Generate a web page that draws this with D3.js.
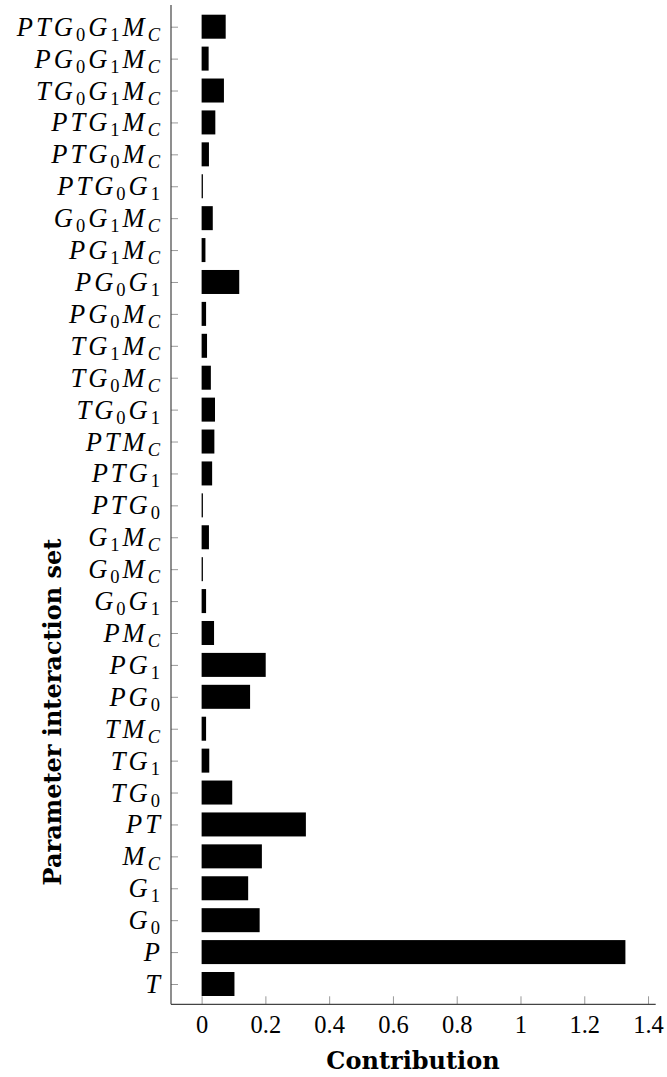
<!DOCTYPE html>
<html>
<head>
<meta charset="utf-8">
<script src="https://cdn.jsdelivr.net/npm/d3@7/dist/d3.min.js"></script>
<style>
  html, body { margin: 0; padding: 0; background: #fff; }
  svg { display: block; }
</style>
</head>
<body>
<svg id="chart" width="667" height="1077"></svg>
<script>
// Parameter interaction sets, listed bottom to top; "_x" marks a subscript.
const categories = [
  "T", "P", "G_0", "G_1", "M_C", "PT", "TG_0", "TG_1", "TM_C",
  "PG_0", "PG_1", "PM_C", "G_0G_1", "G_0M_C", "G_1M_C", "PTG_0",
  "PTG_1", "PTM_C", "TG_0G_1", "TG_0M_C", "TG_1M_C", "PG_0M_C",
  "PG_0G_1", "PG_1M_C", "G_0G_1M_C", "PTG_0G_1", "PTG_0M_C",
  "PTG_1M_C", "TG_0G_1M_C", "PG_0G_1M_C", "PTG_0G_1M_C"
];

// Contribution of each interaction set (same order as categories).
const contributions = [
  0.103, 1.329, 0.182, 0.146, 0.189, 0.327, 0.096, 0.024, 0.014,
  0.152, 0.201, 0.039, 0.014, 0.004, 0.023, 0.004,
  0.033, 0.040, 0.042, 0.029, 0.017, 0.014,
  0.118, 0.012, 0.035, 0.004, 0.023,
  0.043, 0.070, 0.022, 0.0755
];

const xTicks = [0, 0.2, 0.4, 0.6, 0.8, 1, 1.2, 1.4];
const xDomain = [-0.096, 1.424];

const xTitle = "Contribution";
const yTitle = "Parameter interaction set";

const SERIF = "'Liberation Serif', 'Times New Roman', serif";
const TITLE_FONT = "'DejaVu Serif', 'Liberation Serif', serif";

const svg = d3.select("#chart");

const plot = { left: 171, right: 655.7, top: 5, bottom: 1004.3 };
const firstCenter = 984, lastCenter = 26.7;
const barHeight = 24;

const x = d3.scaleLinear().domain(xDomain).range([plot.left, plot.right]);
const y = d3.scalePoint().domain(categories).range([firstCenter, lastCenter]);

const data = categories.map((c, i) => ({ name: c, value: contributions[i] }));

// Bars
svg.append("g")
  .selectAll("rect")
  .data(data)
  .join("rect")
  .attr("x", x(0))
  .attr("y", d => y(d.name) - barHeight / 2)
  .attr("width", d => Math.max(1.3, x(d.value) - x(0)))
  .attr("height", barHeight)
  .attr("fill", "#000");

// X axis (ticks pointing into the plot)
const xAxis = svg.append("g")
  .attr("transform", `translate(0,${plot.bottom})`)
  .call(d3.axisBottom(x).tickValues(xTicks).tickFormat(d3.format("~g"))
    .tickSizeInner(-8).tickSizeOuter(0).tickPadding(0));
xAxis.select(".domain").remove();
xAxis.selectAll(".tick line").attr("stroke", "#999");
xAxis.selectAll(".tick text")
  .attr("dy", null)
  .attr("y", 29)
  .style("font-family", SERIF)
  .style("font-size", "24.5px")
  .attr("fill", "#000");

// Y axis (ticks pointing into the plot, labels drawn as math text)
const yAxis = svg.append("g")
  .attr("transform", `translate(${plot.left},0)`)
  .call(d3.axisLeft(y).tickFormat("").tickSizeInner(-7).tickSizeOuter(0));
yAxis.select(".domain").remove();
yAxis.selectAll(".tick line").attr("stroke", "#999");

function parseLabel(s) {
  const parts = [];
  let i = 0;
  while (i < s.length) {
    if (s[i] === "_") { parts.push({ t: s[i + 1], sub: true }); i += 2; }
    else { parts.push({ t: s[i], sub: false }); i += 1; }
  }
  return parts;
}

const labelSpacing = 3;
yAxis.selectAll(".tick").each(function(name) {
  const t = d3.select(this).append("text")
    .attr("x", -11 + labelSpacing)
    .attr("y", 8.5)
    .attr("text-anchor", "end")
    .style("font-family", SERIF)
    .style("font-style", "italic")
    .style("font-size", "26.5px")
    .style("letter-spacing", labelSpacing + "px")
    .attr("fill", "#000");
  let inSub = false;
  parseLabel(name).forEach(p => {
    const ts = t.append("tspan").text(p.t);
    const isDigit = /[0-9]/.test(p.t);
    if (p.sub) {
      ts.style("font-size", "18.5px").attr("dy", inSub ? 0 : 5);
      if (isDigit) ts.style("font-style", "normal");
      inSub = true;
    } else {
      ts.attr("dy", inSub ? -5 : 0);
      inSub = false;
    }
  });
});

// Axis lines
svg.append("line")
  .attr("x1", plot.left).attr("x2", plot.left)
  .attr("y1", plot.top).attr("y2", plot.bottom)
  .attr("stroke", "#444").attr("stroke-width", 1.2);
svg.append("line")
  .attr("x1", plot.left).attr("x2", plot.right)
  .attr("y1", plot.bottom).attr("y2", plot.bottom)
  .attr("stroke", "#444").attr("stroke-width", 1.2);

// Axis titles
svg.append("text")
  .attr("x", 413)
  .attr("y", 1069)
  .attr("text-anchor", "middle")
  .style("font-family", TITLE_FONT)
  .style("font-weight", "bold")
  .style("font-size", "24px")
  .attr("fill", "#000")
  .text(xTitle);

svg.append("text")
  .attr("transform", "translate(61,712) rotate(-90)")
  .attr("text-anchor", "middle")
  .style("font-family", TITLE_FONT)
  .style("font-weight", "bold")
  .style("font-size", "24px")
  .attr("fill", "#000")
  .text(yTitle);
</script>
</body>
</html>
